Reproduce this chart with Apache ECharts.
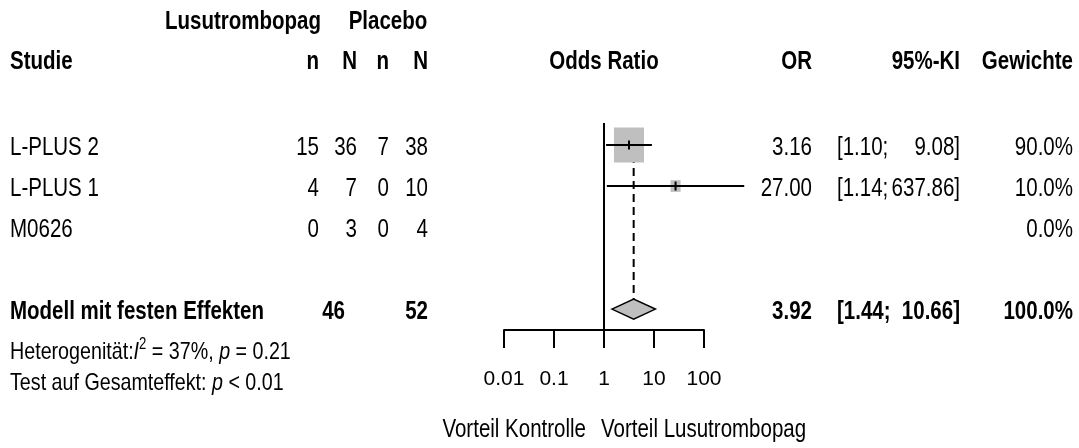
<!DOCTYPE html>
<html>
<head>
<meta charset="utf-8">
<title>Forest plot</title>
<script src="https://cdn.jsdelivr.net/npm/echarts@6/dist/echarts.min.js"></script>
<style>
html, body { margin: 0; padding: 0; background: #fff; }
#chart { width: 1079px; height: 448px; }
</style>
</head>
<body>
<div id="chart"></div>
<script>
// study data
const studies = ['L-PLUS 2', 'L-PLUS 1', 'M0626'];
const eventsLus = [15, 4, 0];
const totalLus = [36, 7, 3];
const eventsPla = [7, 0, 0];
const totalPla = [38, 10, 4];
const oddsRatio = [3.16, 27.00, null];
const ciLower = [1.10, 1.14, null];
const ciUpper = [9.08, 637.86, null];
const weights = [90.0, 10.0, 0.0];

// pooled (fixed effect)
const pooledLabel = 'Modell mit festen Effekten';
const pooledTotalLus = 46;
const pooledTotalPla = 52;
const pooledOR = 3.92;
const pooledLower = 1.44;
const pooledUpper = 10.66;
const pooledWeight = 100.0;

const xTicks = [0.01, 0.1, 1, 10, 100];
const hetI2 = '37%';
const hetP = '0.21';
const overallP = '< 0.01';

// row positions on the (hidden) y axis
const studyRows = [1, 2, 3];
const pooledRow = 5;
const rowTop = 0.463;
const rowBottom = 5.51;

const FONT = "'Liberation Sans', Arial, sans-serif";
const BIG = 25;
const SMALL = 24;
const SX = 0.82;   // the reference text is horizontally condensed
const GREY = '#bfbfbf';

const chart = echarts.init(document.getElementById('chart'));

const studyData = studies.map((s, i) => [studyRows[i], oddsRatio[i], ciLower[i], ciUpper[i], weights[i]])
  .filter(d => d[1] != null);

chart.setOption({
  animation: false,
  grid: { left: 504, right: 375, top: 104, bottom: 118 },
  xAxis: {
    type: 'log', logBase: 10, min: xTicks[0], max: xTicks[xTicks.length - 1],
    position: 'bottom',
    axisLine: { onZero: false, lineStyle: { color: '#000', width: 2 } },
    axisTick: { length: 18, lineStyle: { color: '#000', width: 2 } },
    splitLine: { show: false },
    axisLabel: {
      color: '#000', fontSize: 21, fontFamily: FONT, margin: 39,
      formatter: v => String(xTicks.find(t => Math.abs(Math.log10(t) - Math.log10(v)) < 1e-6) ?? v)
    }
  },
  yAxis: { type: 'value', inverse: true, min: 0, max: rowBottom, show: false },
  series: [
    {
      // reference line at OR = 1
      type: 'custom', clip: false, z: 1,
      data: [[1]],
      encode: { x: 0 },
      renderItem: (params, api) => {
        const a = api.coord([api.value(0), rowTop]);
        const b = api.coord([api.value(0), rowBottom]);
        return { type: 'line', shape: { x1: a[0], y1: a[1], x2: b[0], y2: b[1] },
          style: { stroke: '#000', lineWidth: 2 } };
      }
    },
    {
      // dashed line at pooled estimate
      type: 'custom', clip: false, z: 2,
      data: [[pooledOR]],
      encode: { x: 0 },
      renderItem: (params, api) => {
        const a = api.coord([api.value(0), rowTop]);
        const b = api.coord([api.value(0), pooledRow]);
        return { type: 'line', shape: { x1: a[0], y1: a[1] + 6, x2: b[0], y2: b[1] - 10 },
          style: { stroke: '#000', lineWidth: 2, lineDash: [8, 5] } };
      }
    },
    {
      // study boxes and confidence intervals
      type: 'custom', clip: false, z: 3,
      data: studyData,
      encode: { x: [1, 2, 3], y: 0 },
      renderItem: (params, api) => {
        const row = api.value(0);
        const c = api.coord([api.value(1), row]);
        const lo = api.coord([api.value(2), row]);
        const hi = api.coord([api.value(3), row]);
        const w = api.value(4);
        const bw = 3.17 * Math.sqrt(w);
        const bh = 3.7 * Math.sqrt(w);
        return {
          type: 'group',
          children: [
            { type: 'rect', shape: { x: c[0] - bw / 2, y: c[1] - bh / 2, width: bw, height: bh },
              style: { fill: GREY } },
            { type: 'line', shape: { x1: lo[0], y1: lo[1], x2: hi[0], y2: hi[1] },
              style: { stroke: '#000', lineWidth: 2 } },
            { type: 'line', shape: { x1: c[0], y1: c[1] - 4.5, x2: c[0], y2: c[1] + 4.5 },
              style: { stroke: '#000', lineWidth: 2 } }
          ]
        };
      }
    },
    {
      // pooled diamond
      type: 'custom', clip: false, z: 4,
      data: [[pooledRow, pooledOR, pooledLower, pooledUpper]],
      encode: { x: [1, 2, 3], y: 0 },
      renderItem: (params, api) => {
        const row = api.value(0);
        const c = api.coord([api.value(1), row]);
        const lo = api.coord([api.value(2), row]);
        const hi = api.coord([api.value(3), row]);
        return { type: 'polygon',
          shape: { points: [[lo[0], c[1]], [c[0], c[1] - 10], [hi[0], c[1]], [c[0], c[1] + 10]] },
          style: { fill: GREY, stroke: '#000', lineWidth: 1.5 } };
      }
    }
  ]
});

// table text
const yOf = r => chart.convertToPixel({ yAxisIndex: 0 }, r) + 3;
const txt = (x, y, s, align, bold, size) => ({
  type: 'text', x: x, y: y, scaleX: SX, silent: true,
  style: { text: s, fill: '#000', fontFamily: FONT, fontSize: size || BIG,
    fontWeight: bold ? 'bold' : 'normal', align: align || 'left', verticalAlign: 'middle' }
});
const fmt2 = v => v.toFixed(2);
const fmtW = v => v.toFixed(1) + '%';

const col = { study: 10, nL: 319, NL: 357, nP: 389, NP: 428, or: 812, ciL: 837, ciR: 960, w: 1073 };
const g = [];

// headers
g.push(txt(243, 22, 'Lusutrombopag', 'center', true));
g.push(txt(388, 22, 'Placebo', 'center', true));
const h2 = 62;
g.push(txt(col.study, h2, 'Studie', 'left', true));
g.push(txt(col.nL, h2, 'n', 'right', true));
g.push(txt(col.NL, h2, 'N', 'right', true));
g.push(txt(col.nP, h2, 'n', 'right', true));
g.push(txt(col.NP, h2, 'N', 'right', true));
g.push(txt(604, h2, 'Odds Ratio', 'center', true));
g.push(txt(col.or, h2, 'OR', 'right', true));
g.push(txt(col.ciR, h2, '95%-KI', 'right', true));
g.push(txt(col.w, h2, 'Gewichte', 'right', true));

// study rows
studies.forEach((s, i) => {
  const y = yOf(studyRows[i]);
  g.push(txt(col.study, y, s));
  g.push(txt(col.nL, y, String(eventsLus[i]), 'right'));
  g.push(txt(col.NL, y, String(totalLus[i]), 'right'));
  g.push(txt(col.nP, y, String(eventsPla[i]), 'right'));
  g.push(txt(col.NP, y, String(totalPla[i]), 'right'));
  if (oddsRatio[i] != null) {
    g.push(txt(col.or, y, fmt2(oddsRatio[i]), 'right'));
    g.push(txt(col.ciL, y, '[' + fmt2(ciLower[i]) + ';', 'left'));
    g.push(txt(col.ciR, y, fmt2(ciUpper[i]) + ']', 'right'));
  }
  g.push(txt(col.w, y, fmtW(weights[i]), 'right'));
});

// pooled row
const yp = yOf(pooledRow);
g.push(txt(col.study, yp, pooledLabel, 'left', true));
g.push(txt(345, yp, String(pooledTotalLus), 'right', true));
g.push(txt(col.NP, yp, String(pooledTotalPla), 'right', true));
g.push(txt(col.or, yp, fmt2(pooledOR), 'right', true));
g.push(txt(col.ciL, yp, '[' + fmt2(pooledLower) + ';', 'left', true));
g.push(txt(col.ciR, yp, fmt2(pooledUpper) + ']', 'right', true));
g.push(txt(col.w, yp, fmtW(pooledWeight), 'right', true));

// heterogeneity / overall test
const rich = {
  a: { fontFamily: FONT, fontSize: SMALL, fill: '#000', lineHeight: 30 },
  i: { fontFamily: FONT, fontSize: SMALL, fontStyle: 'italic', fill: '#000', lineHeight: 30 },
  s: { fontFamily: FONT, fontSize: 16, fill: '#000', verticalAlign: 'top', lineHeight: 16 }
};
g.push({ type: 'text', x: col.study, y: 352, scaleX: SX, silent: true,
  style: { text: '{a|Heterogenität:}{i|I}{s|2}{a| = ' + hetI2 + ', }{i|p}{a| = ' + hetP + '}',
    rich: rich, align: 'left', verticalAlign: 'middle' } });
g.push({ type: 'text', x: col.study, y: 383, scaleX: SX, silent: true,
  style: { text: '{a|Test auf Gesamteffekt: }{i|p}{a| ' + overallP + '}',
    rich: rich, align: 'left', verticalAlign: 'middle' } });

// direction labels
g.push(txt(586, 430, 'Vorteil Kontrolle', 'right'));
g.push(txt(601, 430, 'Vorteil Lusutrombopag', 'left'));

chart.setOption({ graphic: g });
</script>
</body>
</html>
